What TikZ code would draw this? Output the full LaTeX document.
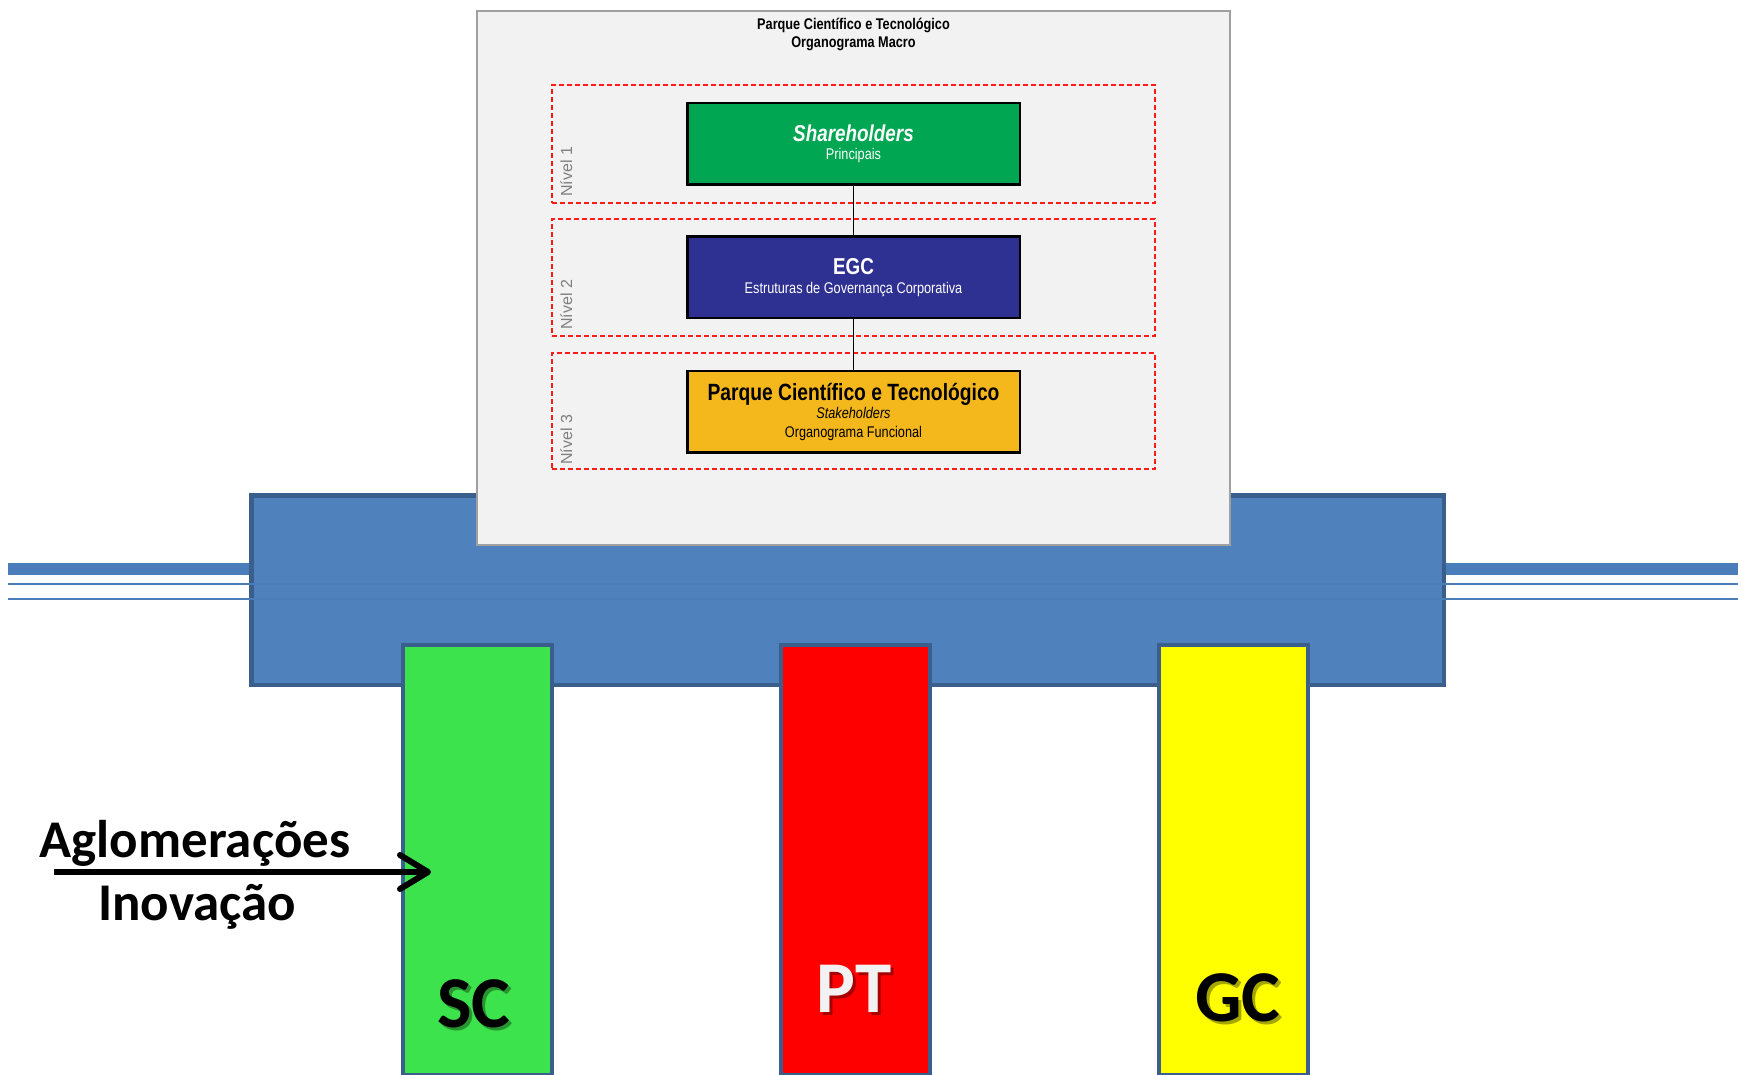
\documentclass[tikz,border=0pt]{standalone}
\usepackage{fontspec}
\newfontfamily\narrowfont{Liberation Sans}[FakeStretch=0.82]
\newfontfamily\arialfont{Liberation Sans}
\newfontfamily\calibrifont{Carlito}
\usetikzlibrary{arrows.meta}

\definecolor{railblue}{HTML}{4A7EBB}
\definecolor{boxblue}{HTML}{4F81BD}
\definecolor{edgeblue}{HTML}{3A5F8D}
\definecolor{panelgray}{HTML}{F2F2F2}
\definecolor{paneledge}{HTML}{A0A0A0}
\definecolor{levelred}{HTML}{FF1A1A}
\definecolor{sharegreen}{HTML}{00A651}
\definecolor{egcblue}{HTML}{2E3192}
\definecolor{parkyellow}{HTML}{F5B81C}
\definecolor{scgreen}{HTML}{3CE34C}
\definecolor{ptred}{HTML}{FF0000}
\definecolor{gcyellow}{HTML}{FFFF00}
\definecolor{labelgray}{HTML}{7F7F7F}

\tikzset{
  rail/.style={draw=railblue, line width=12pt},
  thinrail/.style={draw=railblue, line width=2pt},
  hub/.style={draw=edgeblue, fill=boxblue, line width=4.5pt, inner sep=0pt},
  pillar/.style={draw=edgeblue, line width=4pt, inner sep=0pt,
    minimum width=149pt, minimum height=430pt},
  panelbox/.style={draw=paneledge, fill=panelgray, line width=1.2pt, inner sep=0pt},
  levelbox/.style={draw=levelred, line width=2.2pt, dash pattern=on 5pt off 3pt,
    inner sep=0pt, minimum width=603pt},
  orgbox/.style={draw=black, line width=2.5pt, inner sep=0pt, align=center,
    minimum width=332.5pt, minimum height=81.5pt,
    font=\narrowfont\fontsize{15.5}{18.5}\selectfont},
  orgline/.style={draw=black, line width=1.2pt},
  levellabel/.style={text=labelgray, rotate=90, anchor=base west, inner sep=0pt,
    font=\arialfont\fontsize{16}{16}\selectfont},
  bigletters/.style={anchor=base, inner sep=0pt,
    font=\calibrifont\bfseries\fontsize{73}{73}\selectfont},
  letshadow/.style={bigletters, text=black, opacity=0.35},
  sidetext/.style={anchor=base, inner sep=0pt,
    font=\calibrifont\bfseries\fontsize{53}{53}\selectfont},
  flow/.style={draw=black, line width=6pt,
    -{Straight Barb[length=28pt,width=34pt,line cap=round,line join=round]}}
}

\begin{document}
\begin{tikzpicture}[x=1pt, y=-1pt]
  \useasboundingbox (0,0) rectangle (1738,1075);

  % horizontal rail behind the hub
  \draw[rail] (8,569) -- (1738,569);

  % central hub
  \node[hub, minimum width=1192.5pt, minimum height=189.5pt] (hub) at (847.5,590) {};

  % fine rails across the hub
  \draw[thinrail] (8,584) -- (1738,584);
  \draw[thinrail] (8,599) -- (1738,599);

  % organisation chart panel
  \node[panelbox, minimum width=753pt, minimum height=534pt] (panel) at (853.5,278) {};
  \node[align=center, inner sep=0pt, anchor=base,
        font=\narrowfont\bfseries\fontsize{15.5}{18}\selectfont]
    (title) at (853.5,48) {Parque Científico e Tecnológico\\Organograma Macro};

  % level frames
  \node[levelbox, minimum height=118pt] (lvl1) at (853.5,144) {};
  \node[levelbox, minimum height=117pt] (lvl2) at (853.5,277.5) {};
  \node[levelbox, minimum height=116pt] (lvl3) at (853.5,411) {};
  \node[levellabel] (nivel1) at (572,197) {Nível 1};
  \node[levellabel] (nivel2) at (572,330) {Nível 2};
  \node[levellabel] (nivel3) at (572,465) {Nível 3};

  % chart boxes
  \node[orgbox, fill=sharegreen, text=white] (share) at (853.5,144)
    {{\narrowfont\bfseries\itshape\fontsize{23}{18.5}\selectfont Shareholders}\\Principais};
  \node[orgbox, fill=egcblue, text=white] (egc) at (853.5,277.5)
    {{\narrowfont\bfseries\fontsize{23}{18.5}\selectfont EGC}\\Estruturas de Governança Corporativa};
  \node[orgbox, fill=parkyellow, text=black] (park) at (853.5,411.5)
    {{\narrowfont\bfseries\fontsize{23.5}{18.5}\selectfont Parque Científico e Tecnológico}\\{\itshape Stakeholders}\\Organograma Funcional};

  \draw[orgline] (share.south) -- (egc.north);
  \draw[orgline] (egc.south) -- (park.north);

  % pillars
  \node[pillar, fill=scgreen] (sc) at (477,860) {};
  \node[pillar, fill=ptred] (pt) at (855.5,860) {};
  \node[pillar, fill=gcyellow] (gc) at (1233.5,860) {};

  % pillar labels with drop shadow
  \node[letshadow] (scshadow) at (477,1030) {SC};
  \node[bigletters, text=black] (sclabel) at (474,1027) {SC};
  \node[letshadow] (ptshadow) at (857,1015) {PT};
  \node[bigletters, text=panelgray] (ptlabel) at (854,1012) {PT};
  \node[letshadow] (gcshadow) at (1241,1024) {GC};
  \node[bigletters, text=black] (gclabel) at (1238,1021) {GC};

  % incoming arrow
  \coordinate (flowstart) at (54,872);
  \coordinate (flowend) at (431,872);
  \draw[flow] (flowstart) -- (flowend);
  \node[sidetext] (aglo) at (195,857) {Aglomerações};
  \node[sidetext] (inov) at (197,920) {Inovação};
\end{tikzpicture}
\end{document}
